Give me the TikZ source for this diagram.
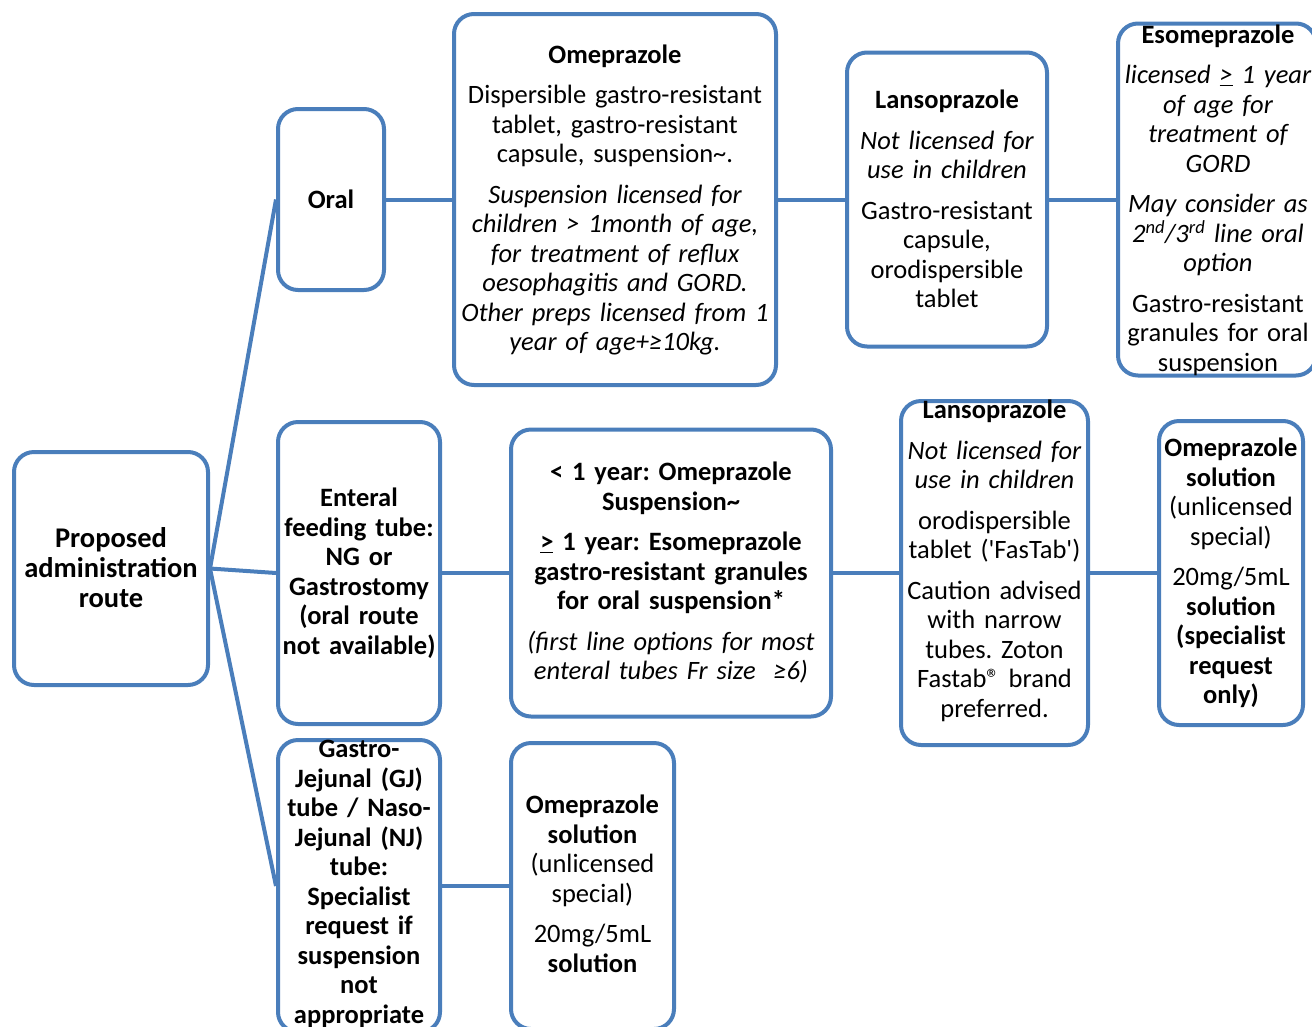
\documentclass[tikz,border=0pt]{standalone}
\usepackage{fontspec}
\setmainfont{Carlito}
\usepackage{tikz}
\usetikzlibrary{shapes.geometric, arrows}
\frenchspacing
\definecolor{routeblue}{RGB}{74,126,187}
\tikzstyle{box}   = [rectangle, rounded corners=20pt, draw=routeblue, line width=4pt, fill=white, inner sep=0pt]
\tikzstyle{words} = [align=center, text width=340pt, inner sep=0pt, font=\fontsize{26.5}{29.5}\selectfont]
\tikzstyle{link}  = [draw=routeblue, line width=4pt]
\newcommand{\pgap}{\\[11pt]}

\begin{document}
\begin{tikzpicture}[x=1pt, y=-1pt]
    \useasboundingbox (0,0) rectangle (1312,1026);

    % boxes
    \node (prop)   [box, minimum width=194pt, minimum height=233pt] at (111,568.5) {};
    \node (oral)   [box, minimum width=106pt, minimum height=181pt] at (331,199.5) {};
    \node (ometop) [box, minimum width=322pt, minimum height=371pt] at (615,199.5) {};
    \node (lantop) [box, minimum width=200pt, minimum height=294pt] at (947,199.5) {};
    \node (esotop) [box, minimum width=198pt, minimum height=352pt] at (1217,199.5) {};
    \node (ent)    [box, minimum width=162pt, minimum height=302pt] at (359,573) {};
    \node (young)  [box, minimum width=320pt, minimum height=287pt] at (671,573) {};
    \node (lanmid) [box, minimum width=187pt, minimum height=344pt] at (994.5,573) {};
    \node (omesol) [box, minimum width=144pt, minimum height=304pt] at (1231,573) {};
    \node (gj)     [box, minimum width=162pt, minimum height=292pt] at (359,886) {};
    \node (omebot) [box, minimum width=163pt, minimum height=286pt] at (592.5,886) {};

    % texts
    \node (prop-t)   [words, font=\fontsize{28.5}{30}\selectfont] at (111,568) {\textbf{Proposed\\administration\\route}};
    \node (oral-t)   [words] at (331,199)  {\textbf{Oral}};
    \node (ometop-t) [words] at (615,200)  {\textbf{Omeprazole}\pgap
        Dispersible gastro-resistant\\tablet, gastro-resistant\\capsule, suspension\textasciitilde.\pgap
        \textit{Suspension licensed for\\children > 1month of age,\\for treatment of reflux\\oesophagitis and GORD.\\Other preps licensed from 1\\year of age+≥10kg.}};
    \node (lantop-t) [words] at (947,199)  {\textbf{Lansoprazole}\pgap
        \textit{Not licensed for\\use in children}\pgap
        Gastro-resistant\\capsule,\\orodispersible\\tablet};
    \node (esotop-t) [words] at (1218,200) {\textbf{Esomeprazole}\pgap
        \textit{licensed \underline{>} 1 year\\of age for\\treatment of\\GORD}\pgap
        \textit{May consider as\\2\textsuperscript{nd}/3\textsuperscript{rd} line oral\\option}\pgap
        Gastro-resistant\\granules for oral\\suspension};
    \node (ent-t)    [words] at (359,573)  {\textbf{Enteral\\feeding tube:\\NG or\\Gastrostomy\\(oral route\\not available)}};
    \node (young-t)  [words] at (671,573)  {\textbf{< 1 year: Omeprazole\\Suspension\textasciitilde}\pgap
        \textbf{\underline{>} 1 year: Esomeprazole\\gastro-resistant granules\\for oral suspension*}\pgap
        \textit{(first line options for most\\enteral tubes Fr size\ \ ≥6)}};
    \node (lanmid-t) [words] at (994.5,561) {\textbf{Lansoprazole}\pgap
        \textit{Not licensed for\\use in children}\pgap
        orodispersible\\tablet (\textquotesingle FasTab\textquotesingle)\pgap
        Caution advised\\with narrow\\tubes. Zoton\\Fastab® brand\\preferred.};
    \node (omesol-t) [words] at (1231,573) {\textbf{Omeprazole\\solution}\\(unlicensed\\special)\pgap
        20mg/5mL\\\textbf{solution\\(specialist\\request\\only)}};
    \node (gj-t)     [words] at (359,884)  {\textbf{Gastro-\\Jejunal (GJ)\\tube / Naso-\\Jejunal (NJ)\\tube:\\Specialist\\request if\\suspension\\not\\appropriate}};
    \node (omebot-t) [words] at (592.5,884) {\textbf{Omeprazole\\solution}\\(unlicensed\\special)\pgap
        20mg/5mL\\\textbf{solution}};

    % connectors
    \draw [link] (prop.east) -- (oral.west);
    \draw [link] (prop.east) -- (ent.west);
    \draw [link] (prop.east) -- (gj.west);
    \draw [link] (oral) -- (ometop);
    \draw [link] (ometop) -- (lantop);
    \draw [link] (lantop) -- (esotop);
    \draw [link] (ent) -- (young);
    \draw [link] (young) -- (lanmid);
    \draw [link] (lanmid) -- (omesol);
    \draw [link] (gj) -- (omebot);

\end{tikzpicture}
\end{document}
